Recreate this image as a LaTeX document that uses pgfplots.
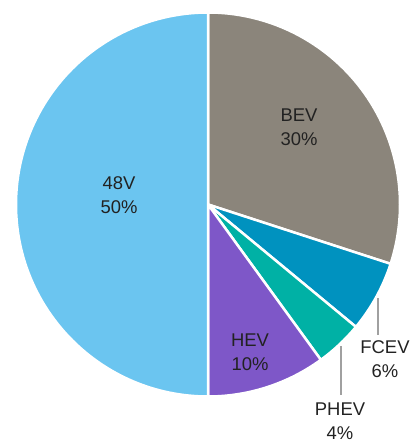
\documentclass[border=0pt]{standalone}
\usepackage{pgfplots}
\pgfplotsset{compat=1.18}
\usepackage{fontspec}
\setmainfont{Liberation Sans}

\definecolor{c48v}{HTML}{6BC5F0}
\definecolor{cbev}{HTML}{8B857B}
\definecolor{cfcev}{HTML}{0092BF}
\definecolor{cphev}{HTML}{00B1A5}
\definecolor{chev}{HTML}{7E57C8}
\definecolor{ctext}{HTML}{222222}
\definecolor{cline}{HTML}{A0A0A0}

% slice from cumulative percentage #1 to #2, clockwise from the top
\newcommand{\slice}[3]{%
  \fill[#3, draw=white, line width=2.5bp]
    (0,0) -- ({192*cos(90-3.6*#1)},{192*sin(90-3.6*#1)})
    arc[start angle={90-3.6*#1}, end angle={90-3.6*#2}, radius=192bp] -- cycle;
}

\begin{document}
\begin{tikzpicture}
\clip (0,0) rectangle (414bp,440bp);
\begin{axis}[
  hide axis,
  scale only axis,
  width=414bp, height=440bp,
  xmin=-208, xmax=206,
  ymin=-235.5, ymax=204.5,
  clip=false,
]
  % shares in percent: BEV 30, FCEV 6, PHEV 4, HEV 10, 48V 50
  \slice{0}{30}{cbev}
  \slice{30}{36}{cfcev}
  \slice{36}{40}{cphev}
  \slice{40}{50}{chev}
  \slice{50}{100}{c48v}

  \draw[cline, line width=1.8bp] (170,-93.5) -- (170,-130.5);
  \draw[cline, line width=1.8bp] (133,-141.5) -- (133,-190.5);

  \begin{scope}[every node/.style={align=center, text=ctext,
      font=\fontsize{18.5}{24}\selectfont}]
    \node at (91,77) {BEV\\30\%};
    \node at (-89,9) {48V\\50\%};
    \node at (42,-147.5) {HEV\\10\%};
    \node at (177,-154.5) {FCEV\\6\%};
    \node at (132,-217) {PHEV\\4\%};
  \end{scope}
\end{axis}
\end{tikzpicture}
\end{document}
